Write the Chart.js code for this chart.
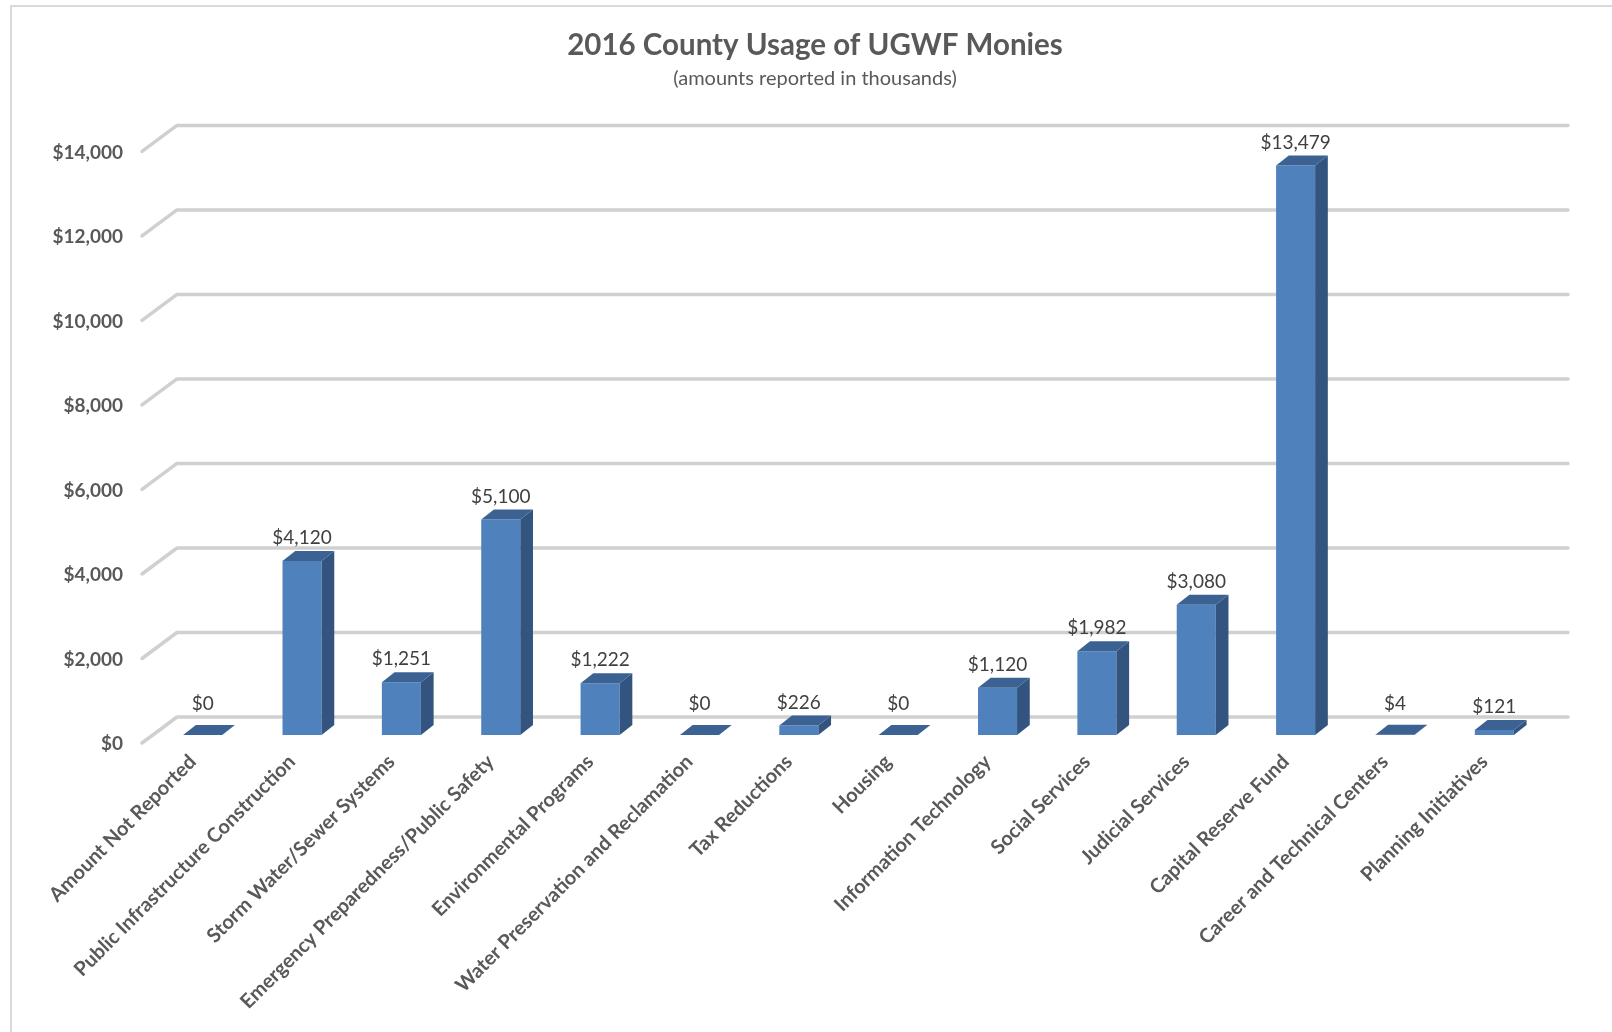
<!DOCTYPE html>
<html>
<head>
<meta charset="utf-8">
<script src="https://cdn.jsdelivr.net/npm/chart.js@4.4.0/dist/chart.umd.min.js"></script>
<style>
  html, body { margin: 0; padding: 0; background: #fff; }
  #wrap { width: 1612px; height: 1032px; }
</style>
</head>
<body>
<div id="wrap"><canvas id="chart" width="1612" height="1032"></canvas></div>
<script>
// ========================
// DATA
// ========================
const categories = [
    'Amount Not Reported',
    'Public Infrastructure Construction',
    'Storm Water/Sewer Systems',
    'Emergency Preparedness/Public Safety',
    'Environmental Programs',
    'Water Preservation and Reclamation',
    'Tax Reductions',
    'Housing',
    'Information Technology',
    'Social Services',
    'Judicial Services',
    'Capital Reserve Fund',
    'Career and Technical Centers',
    'Planning Initiatives'
];
const amounts = [0, 4120, 1251, 5100, 1222, 0, 226, 0, 1120, 1982, 3080, 13479, 4, 121];
const yTicks = [0, 2000, 4000, 6000, 8000, 10000, 12000, 14000];

const titleText = '2016 County Usage of UGWF Monies';
const subtitleText = '(amounts reported in thousands)';

// ========================
// STYLE
// ========================
const FRONT = '#4F81BD';
const SIDE = '#32547F';
const TOP = '#3B6293';
const GRID = '#D0D0D0';
const TEXT = '#595959';
const FONT = 'Lato';

const money = v => '$' + v.toLocaleString('en-US');

// 3D offsets (pixels) relative to the bar front plane
const back = { dx: 24, dy: -18 };
const floorFront = { dx: -11, dy: 8 };
const barDepth = { dx: 12.7, dy: -10 };

const fake3d = {
    id: 'fake3d',
    beforeDraw(chart) {
        const ctx = chart.ctx;
        ctx.save();
        ctx.fillStyle = '#fff';
        ctx.fillRect(0, 0, chart.width, chart.height);
        ctx.strokeStyle = '#D9D9D9';
        ctx.lineWidth = 2;
        ctx.beginPath();
        ctx.moveTo(11, chart.height);
        ctx.lineTo(11, 6);
        ctx.lineTo(chart.width, 6);
        ctx.stroke();
        ctx.restore();
    },
    beforeDatasetsDraw(chart) {
        const { ctx, chartArea: a, scales: { y } } = chart;
        ctx.save();
        ctx.strokeStyle = GRID;
        ctx.lineWidth = 3.5;
        ctx.lineCap = 'round';
        ctx.lineJoin = 'round';
        y.ticks.forEach(t => {
            const py = y.getPixelForValue(t.value);
            ctx.beginPath();
            ctx.moveTo(a.left + floorFront.dx, py + floorFront.dy);
            ctx.lineTo(a.left + back.dx, py + back.dy);
            ctx.lineTo(a.right + back.dx, py + back.dy);
            ctx.stroke();
        });
        ctx.restore();
    },
    afterDatasetsDraw(chart) {
        const ctx = chart.ctx;
        const meta = chart.getDatasetMeta(0);
        ctx.save();
        meta.data.forEach((bar, i) => {
            const { x, y, base, width } = bar.getProps(['x', 'y', 'base', 'width'], true);
            const l = x - width / 2, r = x + width / 2;
            // side face
            ctx.fillStyle = SIDE;
            ctx.beginPath();
            ctx.moveTo(r, base);
            ctx.lineTo(r + barDepth.dx, base + barDepth.dy);
            ctx.lineTo(r + barDepth.dx, y + barDepth.dy);
            ctx.lineTo(r, y);
            ctx.closePath();
            ctx.fill();
            // top face
            ctx.fillStyle = TOP;
            ctx.beginPath();
            ctx.moveTo(l, y);
            ctx.lineTo(l + barDepth.dx, y + barDepth.dy);
            ctx.lineTo(r + barDepth.dx, y + barDepth.dy);
            ctx.lineTo(r, y);
            ctx.closePath();
            ctx.fill();
            // value label
            const v = amounts[i];
            ctx.fillStyle = '#404040';
            ctx.font = '19px ' + FONT;
            ctx.textAlign = 'center';
            ctx.textBaseline = 'middle';
            ctx.fillText(money(v), x, y - 23 - (v < 50 ? 8 : 0));
        });
        ctx.restore();
    }
};

new Chart(document.getElementById('chart'), {
    type: 'bar',
    data: {
        labels: categories,
        datasets: [{
            data: amounts,
            backgroundColor: FRONT,
            borderWidth: 0,
            barPercentage: 0.393,
            categoryPercentage: 1.0
        }]
    },
    options: {
        responsive: false,
        devicePixelRatio: 1,
        animation: false,
        layout: { padding: { left: 18, right: 0, top: 0, bottom: 0 } },
        plugins: {
            legend: { display: false },
            tooltip: { enabled: false },
            title: {
                display: true,
                text: titleText,
                color: TEXT,
                font: { family: FONT, size: 29.5, weight: 'bold' },
                padding: { top: 28, bottom: 0 }
            },
            subtitle: {
                display: true,
                text: subtitleText,
                color: TEXT,
                font: { family: FONT, size: 20 },
                padding: { top: 3, bottom: 53 }
            }
        },
        scales: {
            x: {
                grid: { display: false, drawTicks: false },
                border: { display: false },
                ticks: {
                    autoSkip: false,
                    minRotation: 45,
                    maxRotation: 45,
                    padding: 15,
                    labelOffset: -10,
                    color: TEXT,
                    font: { family: FONT, size: 20, weight: 'bold' }
                },
                afterFit(s) { s.height = 297; }
            },
            y: {
                min: 0,
                max: 14000,
                grid: { display: false, drawTicks: false },
                border: { display: false },
                afterBuildTicks(s) { s.ticks = yTicks.map(v => ({ value: v })); },
                ticks: {
                    padding: 30,
                    labelOffset: 9,
                    color: TEXT,
                    font: { family: FONT, size: 19, weight: 'bold' },
                    callback: v => money(v)
                },
                afterFit(s) { s.width = 135; }
            },
            // empty spacer on the right so the plot ends where the reference does
            spacer: {
                type: 'linear',
                position: 'right',
                grid: { display: false, drawTicks: false },
                border: { display: false },
                ticks: { display: false },
                afterFit(s) { s.width = 68; }
            }
        }
    },
    plugins: [fake3d]
});
</script>
</body>
</html>
